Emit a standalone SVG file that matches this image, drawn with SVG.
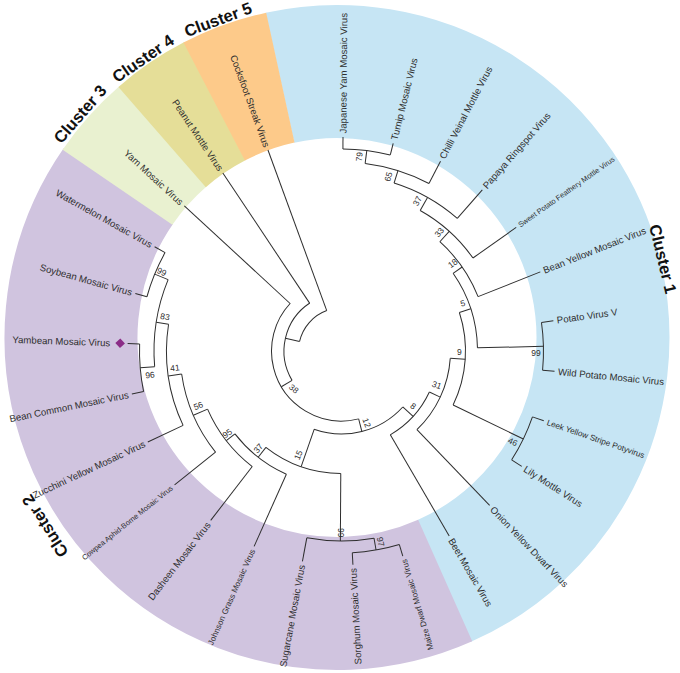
<svg xmlns="http://www.w3.org/2000/svg" width="680" height="673" viewBox="0 0 680 673">
<style>
.br{fill:none;stroke:#2e2e2e;stroke-width:1}
.band{fill:none;stroke-width:133}
.lf{font-family:"Liberation Sans",Arial,sans-serif;font-size:9.6px;fill:#2e2e2e}
.sm{font-size:7.4px}
.md{font-size:8.2px}
.bs{font-family:"Liberation Sans",Arial,sans-serif;font-size:8.5px;fill:#2e2e2e;text-anchor:middle}
.cl{font-family:"Liberation Sans",Arial,sans-serif;font-size:16.5px;font-weight:bold;fill:#111;text-anchor:middle}
.L{text-anchor:end}
</style>
<rect width="680" height="673" fill="#ffffff"/>
<g id="bands" transform="translate(337,337.5)">
  <circle class="band" r="266" stroke="#c6e5f4" stroke-dasharray="783 3000" transform="rotate(257.6)"/>
  <circle class="band" r="266" stroke="#d0c4df" stroke-dasharray="690 3000" transform="rotate(66)"/>
  <circle class="band" r="266" stroke="#e9f1d0" stroke-dasharray="68 3000" transform="rotate(214.4)"/>
  <circle class="band" r="266" stroke="#e5de98" stroke-dasharray="64 3000" transform="rotate(228.9)"/>
  <circle class="band" r="266" stroke="#fdca8a" stroke-dasharray="70.6 3000" transform="rotate(242.5)"/>
</g>
<g id="connectors" transform="translate(341.5,351)">
  <circle class="br" r="43" stroke-dasharray="42.85 3000" transform="rotate(192.8)"/>
  <circle class="br" r="57.5" stroke-dasharray="87.35 3000" transform="rotate(149.28)"/>
  <circle class="br" r="70" stroke-dasharray="179.5 3000" transform="rotate(75.82)"/>
  <circle class="br" r="83" stroke-dasharray="96.8 3000" transform="rotate(42.41)"/>
  <circle class="br" r="97" stroke-dasharray="58.81 3000" transform="rotate(25.04)"/>
  <circle class="br" r="109" stroke-dasharray="80.53 3000" transform="rotate(3.87)"/>
  <circle class="br" r="124" stroke-dasharray="95.05 3000" transform="rotate(-18.09)"/>
  <circle class="br" r="136" stroke-dasharray="79.56 3000" transform="rotate(-34.85)"/>
  <circle class="br" r="147" stroke-dasharray="67.5 3000" transform="rotate(-48.01)"/>
  <circle class="br" r="161" stroke-dasharray="71.54 3000" transform="rotate(-60.74)"/>
  <circle class="br" r="176" stroke-dasharray="72.99 3000" transform="rotate(-72.62)"/>
  <circle class="br" r="189" stroke-dasharray="67.19 3000" transform="rotate(-82.81)"/>
  <circle class="br" r="202" stroke-dasharray="47.88 3000" transform="rotate(-89.6)"/>
  <circle class="br" r="202" stroke-dasharray="47.88 3000" transform="rotate(-8.12)"/>
  <circle class="br" r="202" stroke-dasharray="47.88 3000" transform="rotate(19.04)"/>
  <circle class="br" r="202" stroke-dasharray="47.88 3000" transform="rotate(73.36)"/>
  <circle class="br" r="202" stroke-dasharray="47.88 3000" transform="rotate(168.42)"/>
  <circle class="br" r="202" stroke-dasharray="47.88 3000" transform="rotate(195.58)"/>
  <circle class="br" r="190" stroke-dasharray="67.55 3000" transform="rotate(80.15)"/>
  <circle class="br" r="122.5" stroke-dasharray="80.75 3000" transform="rotate(90.34)"/>
  <circle class="br" r="135" stroke-dasharray="66 3000" transform="rotate(114.1)"/>
  <circle class="br" r="146" stroke-dasharray="73.54 3000" transform="rotate(127.68)"/>
  <circle class="br" r="161.5" stroke-dasharray="86.14 3000" transform="rotate(141.26)"/>
  <circle class="br" r="175" stroke-dasharray="103.69 3000" transform="rotate(154.84)"/>
  <circle class="br" r="187.5" stroke-dasharray="88.88 3000" transform="rotate(175.21)"/>
  <line class="br" y1="-43" y2="-57.5" transform="rotate(282.8)"/>
  <line class="br" y1="-57.5" y2="-70" transform="rotate(239.28)"/>
  <line class="br" y1="-70" y2="-83" transform="rotate(165.82)"/>
  <line class="br" y1="-83" y2="-122.5" transform="rotate(199.23)"/>
  <line class="br" y1="-83" y2="-97" transform="rotate(132.41)"/>
  <line class="br" y1="-97" y2="-109" transform="rotate(115.04)"/>
  <line class="br" y1="-109" y2="-124" transform="rotate(93.87)"/>
  <line class="br" y1="-124" y2="-202" transform="rotate(115.83)"/>
  <line class="br" y1="-124" y2="-136" transform="rotate(71.91)"/>
  <line class="br" y1="-136" y2="-202" transform="rotate(88.67)"/>
  <line class="br" y1="-136" y2="-147" transform="rotate(55.15)"/>
  <line class="br" y1="-147" y2="-161" transform="rotate(41.99)"/>
  <line class="br" y1="-161" y2="-176" transform="rotate(29.26)"/>
  <line class="br" y1="-176" y2="-189" transform="rotate(17.38)"/>
  <line class="br" y1="-189" y2="-202" transform="rotate(7.19)"/>
  <line class="br" y1="-122.5" y2="-190" transform="rotate(180.34)"/>
  <line class="br" y1="-190" y2="-202" transform="rotate(170.15)"/>
  <line class="br" y1="-122.5" y2="-135" transform="rotate(218.11)"/>
  <line class="br" y1="-135" y2="-146" transform="rotate(232.11)"/>
  <line class="br" y1="-146" y2="-161.5" transform="rotate(246.54)"/>
  <line class="br" y1="-161.5" y2="-175" transform="rotate(261.82)"/>
  <line class="br" y1="-175" y2="-187.5" transform="rotate(278.79)"/>
  <line class="br" y1="-187.5" y2="-202" transform="rotate(292.37)"/>
  <line class="br" y1="-187.5" y2="-202" transform="rotate(265.21)"/>
  <line class="br" y1="-202" y2="-214" transform="rotate(0.4)"/>
  <line class="br" y1="-202" y2="-214" transform="rotate(13.98)"/>
  <line class="br" y1="-189" y2="-214" transform="rotate(27.56)"/>
  <line class="br" y1="-176" y2="-214" transform="rotate(41.14)"/>
  <line class="br" y1="-161" y2="-214" transform="rotate(54.72)"/>
  <line class="br" y1="-147" y2="-214" transform="rotate(68.3)"/>
  <line class="br" y1="-202" y2="-214" transform="rotate(81.88)"/>
  <line class="br" y1="-202" y2="-214" transform="rotate(95.46)"/>
  <line class="br" y1="-202" y2="-214" transform="rotate(109.04)"/>
  <line class="br" y1="-202" y2="-214" transform="rotate(122.62)"/>
  <line class="br" y1="-109" y2="-214" transform="rotate(136.2)"/>
  <line class="br" y1="-97" y2="-214" transform="rotate(149.78)"/>
  <line class="br" y1="-202" y2="-214" transform="rotate(163.36)"/>
  <line class="br" y1="-202" y2="-214" transform="rotate(176.94)"/>
  <line class="br" y1="-190" y2="-214" transform="rotate(190.52)"/>
  <line class="br" y1="-135" y2="-214" transform="rotate(204.1)"/>
  <line class="br" y1="-146" y2="-214" transform="rotate(217.68)"/>
  <line class="br" y1="-161.5" y2="-214" transform="rotate(231.26)"/>
  <line class="br" y1="-175" y2="-214" transform="rotate(244.84)"/>
  <line class="br" y1="-202" y2="-214" transform="rotate(258.42)"/>
  <line class="br" y1="-202" y2="-214" transform="rotate(272)"/>
  <line class="br" y1="-202" y2="-214" transform="rotate(285.58)"/>
  <line class="br" y1="-202" y2="-214" transform="rotate(299.16)"/>
  <line class="br" y1="-70" y2="-214" transform="rotate(312.74)"/>
  <line class="br" y1="-57.5" y2="-214" transform="rotate(326.32)"/>
  <line class="br" y1="-43" y2="-214" transform="rotate(339.9)"/>
</g>
<g id="leaves" transform="translate(341.5,351)">
  <g id="japanese-yam"><text class="lf" dy="0.35em" transform="rotate(-89.6) translate(217.5,0)">Japanese Yam Mosaic Virus</text></g>
  <g id="turnip"><text class="lf" dy="0.35em" transform="rotate(-76.02) translate(217.5,0)">Turnip Mosaic Virus</text></g>
  <g id="chilli"><text class="lf" dy="0.35em" transform="rotate(-62.44) translate(217.5,0)">Chilli Veinal Mottle Virus</text></g>
  <g id="papaya"><text class="lf" dy="0.35em" transform="rotate(-48.86) translate(217.5,0)">Papaya Ringspot Virus</text></g>
  <g id="sweet-potato"><text class="lf sm" dy="0.35em" transform="rotate(-35.28) translate(217.5,0)">Sweet Potato Feathery Mottle Virus</text></g>
  <g id="bean-yellow"><text class="lf" dy="0.35em" transform="rotate(-21.7) translate(217.5,0)">Bean Yellow Mosaic Virus</text></g>
  <g id="potato-v"><text class="lf" dy="0.35em" transform="rotate(-8.12) translate(217.5,0)">Potato Virus V</text></g>
  <g id="wild-potato"><text class="lf" dy="0.35em" transform="rotate(5.46) translate(217.5,0)">Wild Potato Mosaic Virus</text></g>
  <g id="leek"><text class="lf md" dy="0.35em" transform="rotate(19.04) translate(217.5,0)">Leek Yellow Stripe Potyvirus</text></g>
  <g id="lily"><text class="lf" dy="0.35em" transform="rotate(32.62) translate(217.5,0)">Lily Mottle Virus</text></g>
  <g id="onion"><text class="lf" dy="0.35em" transform="rotate(46.2) translate(217.5,0)">Onion Yellow Dwarf Virus</text></g>
  <g id="beet"><text class="lf" dy="0.35em" transform="rotate(59.78) translate(217.5,0)">Beet Mosaic Virus</text></g>
  <g id="maize"><text class="lf md L" dy="0.35em" transform="rotate(-106.64) translate(-217.5,0)">Maize Dwarf Mosaic Virus</text></g>
  <g id="sorghum"><text class="lf L" dy="0.35em" transform="rotate(-93.06) translate(-217.5,0)">Sorghum Mosaic Virus</text></g>
  <g id="sugarcane"><text class="lf L" dy="0.35em" transform="rotate(-79.48) translate(-217.5,0)">Sugarcane Mosaic Virus</text></g>
  <g id="johnson-grass"><text class="lf md L" dy="0.35em" transform="rotate(-65.9) translate(-217.5,0)">Johnson Grass Mosaic Virus</text></g>
  <g id="dasheen"><text class="lf L" dy="0.35em" transform="rotate(-52.32) translate(-217.5,0)">Dasheen Mosaic Virus</text></g>
  <g id="cowpea"><text class="lf sm L" dy="0.35em" transform="rotate(-38.74) translate(-217.5,0)">Cowpea Aphid-Borne Mosaic Virus</text></g>
  <g id="zucchini"><text class="lf L" dy="0.35em" transform="rotate(-25.16) translate(-217.5,0)">Zucchini Yellow Mosaic Virus</text></g>
  <g id="bean-common"><text class="lf L" dy="0.35em" transform="rotate(-11.58) translate(-217.5,0)">Bean Common Mosaic Virus</text></g>
  <g id="yambean"><text class="lf L" dy="0.35em" transform="rotate(2) translate(-231.5,0)">Yambean Mosaic Virus</text><polygon points="-221.5,-4.8 -216.7,0 -221.5,4.8 -226.3,0" fill="#8b2c87" transform="rotate(2)"/></g>
  <g id="soybean"><text class="lf L" dy="0.35em" transform="rotate(15.58) translate(-217.5,0)">Soybean Mosaic Virus</text></g>
  <g id="watermelon"><text class="lf L" dy="0.35em" transform="rotate(29.16) translate(-217.5,0)">Watermelon Mosaic Virus</text></g>
  <g id="yam"><text class="lf L" dy="0.35em" transform="rotate(42.74) translate(-217.5,0)">Yam Mosaic Virus</text></g>
  <g id="peanut"><text class="lf L" dy="0.35em" transform="rotate(56.32) translate(-217.5,0)">Peanut Mottle Virus</text></g>
  <g id="cocksfoot"><text class="lf L" dy="0.35em" transform="rotate(69.9) translate(-217.5,0)">Cocksfoot Streak Virus</text></g>
</g>
<g id="bootstrap">
  <text id="bs79" class="bs" x="359.3" y="156.7" dy="0.35em" transform="rotate(-84.8 359.3 156.7)">79</text>
  <text id="bs65" class="bs" x="388.3" y="176.7" dy="0.35em" transform="rotate(-75 388.3 176.7)">65</text>
  <text id="bs37a" class="bs" x="417.3" y="201" dy="0.35em" transform="rotate(-63.2 417.3 201)">37</text>
  <text id="bs33" class="bs" x="439.3" y="232.3" dy="0.35em" transform="rotate(-50.5 439.3 232.3)">33</text>
  <text id="bs18" class="bs" x="452.7" y="263.3" dy="0.35em" transform="rotate(-36.9 452.7 263.3)">18</text>
  <text id="bs5" class="bs" x="462.7" y="303.3" dy="0.35em" transform="rotate(-15 462.7 303.3)">5</text>
  <text id="bs9" class="bs" x="459.3" y="351.7" dy="0.35em">9</text>
  <text id="bs99a" class="bs" x="536" y="353.3" dy="0.35em">99</text>
  <text id="bs46" class="bs" x="512.7" y="441.7" dy="0.35em" transform="rotate(25 512.7 441.7)">46</text>
  <text id="bs31" class="bs" x="436.7" y="385" dy="0.35em" transform="rotate(20 436.7 385)">31</text>
  <text id="bs8" class="bs" x="413.3" y="406" dy="0.35em" transform="rotate(38 413.3 406)">8</text>
  <text id="bs12" class="bs" x="366.7" y="422.7" dy="0.35em" transform="rotate(70.6 366.7 422.7)">12</text>
  <text id="bs97" class="bs" x="380.7" y="541.7" dy="0.35em" transform="rotate(78.4 380.7 541.7)">97</text>
  <text id="bs99b" class="bs" x="340.7" y="532.7" dy="0.35em" transform="rotate(90 340.7 532.7)">99</text>
  <text id="bs15" class="bs" x="298.3" y="455" dy="0.35em" transform="rotate(-67.4 298.3 455)">15</text>
  <text id="bs37b" class="bs" x="258.3" y="448.3" dy="0.35em" transform="rotate(-49.5 258.3 448.3)">37</text>
  <text id="bs95" class="bs" x="227.3" y="433.3" dy="0.35em" transform="rotate(-35.8 227.3 433.3)">95</text>
  <text id="bs56" class="bs" x="198.3" y="405.7" dy="0.35em" transform="rotate(-20.9 198.3 405.7)">56</text>
  <text id="bs41" class="bs" x="175" y="367.7" dy="0.35em" transform="rotate(-5.7 175 367.7)">41</text>
  <text id="bs96" class="bs" x="150" y="375" dy="0.35em" transform="rotate(-7.1 150 375)">96</text>
  <text id="bs83" class="bs" x="165" y="316.7" dy="0.35em" transform="rotate(11 165 316.7)">83</text>
  <text id="bs99c" class="bs" x="161.7" y="271.7" dy="0.35em" transform="rotate(23.8 161.7 271.7)">99</text>
  <text id="bs38" class="bs" x="293.8" y="388.8" dy="0.35em" transform="rotate(40 293.8 388.8)">38</text>
</g>
<g id="cluster-labels">
  <text id="cluster1" class="cl" dy="0.35em" transform="translate(663,259) rotate(76.4)">Cluster 1</text>
  <text id="cluster2" class="cl" dy="0.35em" transform="translate(45,526) rotate(237.3)">Cluster 2</text>
  <text id="cluster3" class="cl" dy="0.35em" transform="translate(80,114) rotate(-48.9)">Cluster 3</text>
  <text id="cluster4" class="cl" dy="0.35em" transform="translate(143,58.5) rotate(-34.7)">Cluster 4</text>
  <text id="cluster5" class="cl" dy="0.35em" transform="translate(218,19.5) rotate(-20.4)">Cluster 5</text>
</g>
</svg>
